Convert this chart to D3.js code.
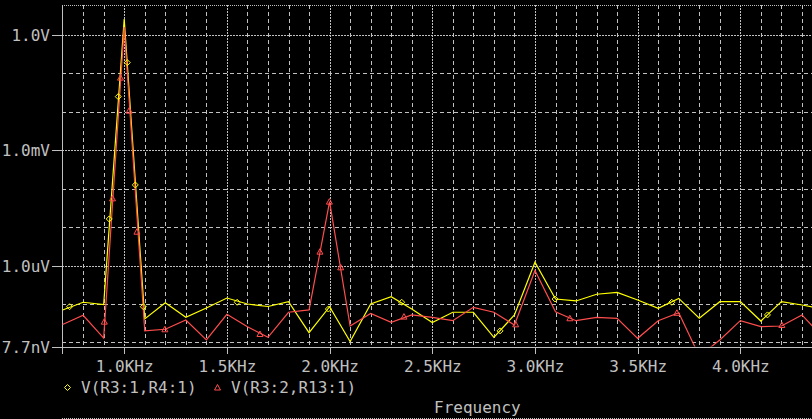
<!DOCTYPE html>
<html>
<head>
<meta charset="utf-8">
<script src="https://cdn.jsdelivr.net/npm/d3@7"></script>
<style>
  body { margin: 0; background: #000; }
  svg { display: block; }
  text { font-family: "DejaVu Sans Mono", "Liberation Mono", monospace; font-size: 16px; fill: #c0c0c0; }
</style>
</head>
<body>
<svg width="812" height="419"></svg>
<script>
// frequency points (Hz)
var freqs = [700, 800, 900, 1000, 1100, 1200, 1300, 1400, 1500, 1600, 1700, 1800, 1900,
             2000, 2100, 2200, 2300, 2400, 2500, 2600, 2700, 2800, 2900, 3000, 3100, 3200,
             3300, 3400, 3500, 3600, 3700, 3800, 3900, 4000, 4100, 4200, 4300, 4400];

// V(R3:1,R4:1) in volts
var vYellow = [7.0e-8, 1.11e-7, 9.7e-8, 2.6, 4.1e-8, 1.08e-7, 4.5e-8, 7.9e-8, 1.43e-7, 1.0e-7,
               8.6e-8, 1.15e-7, 1.8e-8, 8.5e-8, 1.05e-8, 1.0e-7, 1.55e-7, 7.4e-8, 3.3e-8, 6.1e-8,
               6.1e-8, 1.36e-8, 5.2e-8, 1.22e-6, 1.35e-7, 1.2e-7, 1.79e-7, 2.0e-7, 1.27e-7, 7.7e-8,
               1.4e-7, 4.25e-8, 1.15e-7, 1.15e-7, 3.6e-8, 1.15e-7, 9.4e-8, 7.4e-8];

// V(R3:2,R13:1) in volts
var vRed = [2.93e-8, 5.1e-8, 1.3e-8, 1.6, 2.0e-8, 2.2e-8, 3.84e-8, 1.16e-8, 5.4e-8, 2.57e-8,
            1.36e-8, 6.1e-8, 7.0e-8, 4.6e-5, 2.68e-8, 5.7e-8, 3.34e-8, 5.2e-8, 4.5e-8, 3.68e-8,
            8.2e-8, 6.1e-8, 2.84e-8, 7.4e-7, 6.3e-8, 3.68e-8, 4.5e-8, 4.25e-8, 1.28e-8, 3.68e-8,
            5.9e-8, 4.4e-9, 1.16e-8, 3.68e-8, 2.57e-8, 2.68e-8, 5.2e-8, 1.38e-8];

// marker positions
var yellowMarkF = [734, 927, 971, 1015, 1054, 1093, 1550, 1994, 2351, 2830, 3098, 3666, 4132];
var yellowMarkV = [8.5e-8, 1.63e-5, 0.0248, 0.19, 1.25e-4, 8.5e-8, 1.11e-7, 7.4e-8, 1.11e-7, 2.0e-8, 1.35e-7, 1.11e-7, 5.2e-8];
var redMarkF = [903, 943, 982, 1024, 1062, 1198, 1661, 1953, 1999, 2054, 2362, 2906, 3170, 3691, 4202];
var redMarkV = [3.47e-8, 5.6e-5, 0.0774, 0.0107, 7.6e-6, 2.2e-8, 1.66e-8, 2.3e-6, 4.6e-5, 9.0e-7, 4.7e-8, 2.96e-8, 4.25e-8, 5.9e-8, 2.84e-8];

var seriesNames = ["V(R3:1,R4:1)", "V(R3:2,R13:1)"];
var xTicks = [1000, 1500, 2000, 2500, 3000, 3500, 4000];
var xTickLabels = ["1.0KHz", "1.5KHz", "2.0KHz", "2.5KHz", "3.0KHz", "3.5KHz", "4.0KHz"];
var yTicks = [1, 1e-3, 1e-6, 7.7e-9];
var yTickLabels = ["1.0V", "1.0mV", "1.0uV", "7.7nV"];
var yMinor = [1e-8, 1e-7, 1e-5, 1e-4, 1e-2, 1e-1];

var svg = d3.select("svg"),
    plotLeft = 62, plotTop = 5, plotBottom = 346.5, plotRight = 812;

var x = d3.scaleLinear().domain([700, 4400]).range([62.6, 822.5]);
var y = d3.scaleLog().domain([7.7e-9, 6]).range([346.8, 5]);

var gridColor = "#c0c0c0",
    yellow = "#ffff00",
    red = "#ff4d4d";

svg.append("clipPath").attr("id", "plot")
    .append("rect").attr("x", plotLeft).attr("y", plotTop)
    .attr("width", plotRight - plotLeft).attr("height", plotBottom - plotTop);

var grid = svg.append("g").attr("stroke", gridColor).attr("stroke-width", 1).attr("shape-rendering", "crispEdges");

// minor vertical grid every 100 Hz
grid.selectAll(".vmin")
    .data(freqs.filter(function (f) { return f > 700 && f % 500 !== 0; }))
    .enter().append("line")
    .attr("x1", function (d) { return Math.round(x(d)) + 0.5; })
    .attr("x2", function (d) { return Math.round(x(d)) + 0.5; })
    .attr("y1", plotTop).attr("y2", plotBottom)
    .attr("stroke-dasharray", "4,3");

// minor horizontal grid every decade
grid.selectAll(".hmin")
    .data(yMinor)
    .enter().append("line")
    .attr("x1", plotLeft).attr("x2", plotRight)
    .attr("y1", function (d) { return Math.round(y(d)) + 0.5; })
    .attr("y2", function (d) { return Math.round(y(d)) + 0.5; })
    .attr("stroke-dasharray", "4,3");

// major grid
grid.selectAll(".vmaj")
    .data(xTicks)
    .enter().append("line")
    .attr("x1", function (d) { return Math.round(x(d)) + 0.5; })
    .attr("x2", function (d) { return Math.round(x(d)) + 0.5; })
    .attr("y1", plotTop).attr("y2", plotBottom)
    .attr("stroke-dasharray", "2,1");

grid.selectAll(".hmaj")
    .data(yTicks.slice(0, 3))
    .enter().append("line")
    .attr("x1", plotLeft).attr("x2", plotRight)
    .attr("y1", function (d) { return Math.round(y(d)) + 0.5; })
    .attr("y2", function (d) { return Math.round(y(d)) + 0.5; })
    .attr("stroke-dasharray", "2,1");

// frame
grid.append("line").attr("x1", plotLeft).attr("x2", plotRight).attr("y1", plotTop + 0.5).attr("y2", plotTop + 0.5).attr("stroke-dasharray", "1,1");
grid.append("line").attr("x1", plotLeft + 0.5).attr("x2", plotLeft + 0.5).attr("y1", plotTop).attr("y2", plotBottom + 7);
grid.append("line").attr("x1", plotLeft).attr("x2", plotRight).attr("y1", plotBottom + 0.5).attr("y2", plotBottom + 0.5);

// x axis
var xAxis = svg.append("g")
    .attr("transform", "translate(0," + plotBottom + ")")
    .call(d3.axisBottom(x).tickValues(xTicks).tickSize(7)
        .tickFormat(function (d, i) { return xTickLabels[i]; }));
xAxis.select(".domain").remove();
xAxis.selectAll("line").attr("stroke", gridColor).attr("shape-rendering", "crispEdges");
xAxis.selectAll("text").attr("y", 25).attr("dy", 0).attr("fill", gridColor)
    .style("font-family", "DejaVu Sans Mono").style("font-size", "16px");

// y axis
var yAxis = svg.append("g")
    .attr("transform", "translate(" + plotLeft + ",0)")
    .call(d3.axisLeft(y).tickValues(yTicks).tickSize(10).tickPadding(2)
        .tickFormat(function (d, i) { return yTickLabels[i]; }));
yAxis.select(".domain").remove();
yAxis.selectAll("line").attr("stroke", gridColor).attr("shape-rendering", "crispEdges");
yAxis.selectAll("text").attr("dy", 5.5).attr("fill", gridColor)
    .style("font-family", "DejaVu Sans Mono").style("font-size", "16px");

// traces
var line = d3.line()
    .x(function (d) { return x(d[0]); })
    .y(function (d) { return y(d[1]); });

var plot = svg.append("g").attr("clip-path", "url(#plot)");

plot.append("path")
    .datum(freqs.map(function (f, i) { return [f, vYellow[i]]; }))
    .attr("fill", "none").attr("stroke", yellow).attr("stroke-width", 1.2)
    .attr("d", line);

plot.append("path")
    .datum(freqs.map(function (f, i) { return [f, vRed[i]]; }))
    .attr("fill", "none").attr("stroke", red).attr("stroke-width", 1.2)
    .attr("d", line);

var diamond = "M0,-3L3,0L0,3L-3,0Z",
    triangle = "M0,-3L3,2.5L-3,2.5Z";

plot.selectAll(".ym")
    .data(yellowMarkF)
    .enter().append("path")
    .attr("d", diamond)
    .attr("transform", function (d, i) { return "translate(" + x(d) + "," + y(yellowMarkV[i]) + ")"; })
    .attr("fill", "none").attr("stroke", yellow);

plot.selectAll(".rm")
    .data(redMarkF)
    .enter().append("path")
    .attr("d", triangle)
    .attr("transform", function (d, i) { return "translate(" + x(d) + "," + y(redMarkV[i]) + ")"; })
    .attr("fill", "none").attr("stroke", red);

// legend
var legend = svg.append("g");
legend.append("path").attr("d", diamond).attr("transform", "translate(67.5,387.5)")
    .attr("fill", "none").attr("stroke", yellow);
legend.append("text").attr("x", 81).attr("y", 393).text(seriesNames[0]);
legend.append("path").attr("d", triangle).attr("transform", "translate(217.5,387.5)")
    .attr("fill", "none").attr("stroke", red);
legend.append("text").attr("x", 231).attr("y", 393).text(seriesNames[1]);

svg.append("text").attr("x", 434).attr("y", 413).text("Frequency");

// bottom window edge
svg.append("line").attr("x1", plotLeft).attr("x2", plotRight).attr("y1", 418.5).attr("y2", 418.5)
    .attr("stroke", gridColor).attr("stroke-dasharray", "1,1");
</script>
</body>
</html>
